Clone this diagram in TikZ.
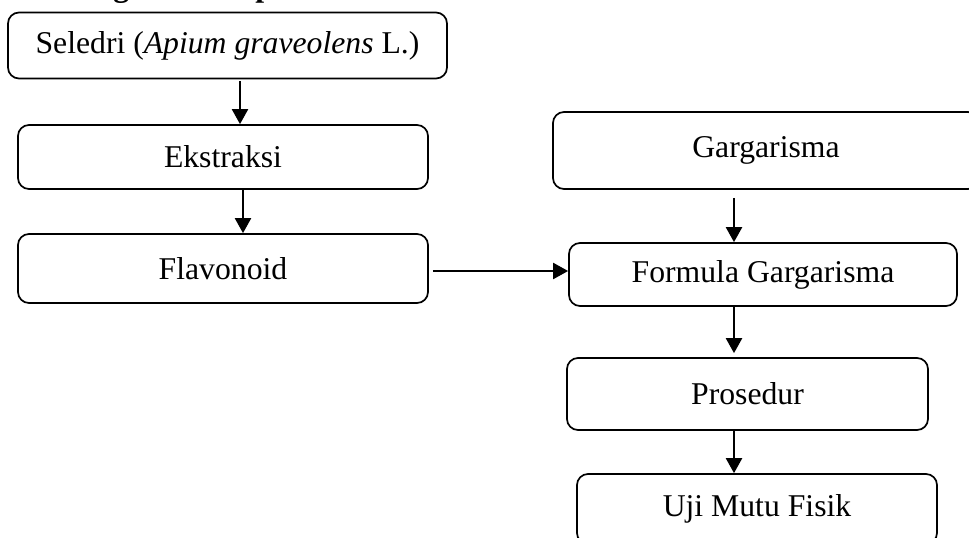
\documentclass[tikz,border=0pt]{standalone}
\usepackage{fontspec}
\setmainfont{Liberation Serif}
\usetikzlibrary{arrows.meta}
\tikzset{
  box/.style={draw=black, line width=1.7pt, rounded corners=11pt, inner sep=0pt,
              align=center, font=\fontsize{31.7}{38}\selectfont},
  arr/.style={line width=2.2pt, -{Triangle[length=15pt,width=16pt]}},
}
\begin{document}
\begin{tikzpicture}[x=1pt,y=-1pt]
\useasboundingbox (0,0) rectangle (969,538);
\node[anchor=base west, inner sep=0pt, font=\fontsize{31.7}{38}\selectfont\bfseries] (title) at (27,-3) {Kerangka Konsep};
\node[box, minimum width=439pt, minimum height=66pt] (sel) at (227.5,45.5) {Seledri (\textit{Apium graveolens} L.)};
\node[box, minimum width=410pt, minimum height=64pt] (eks) at (223,157) {Ekstraksi};
\node[box, minimum width=410pt, minimum height=69pt] (fla) at (223,268.5) {Flavonoid};
\node[box, minimum width=426pt, minimum height=77pt] (gar) at (766,150.5) {Gargarisma};
\node[box, minimum width=388pt, minimum height=63pt] (frm) at (763,274.5) {Formula Gargarisma};
\node[box, minimum width=361pt, minimum height=72pt] (pro) at (747.5,394) {Prosedur};
\node[box, minimum width=360pt, minimum height=70pt] (uji) at (757,509) {Uji Mutu Fisik};
\coordinate (a1) at (240,0);
\coordinate (a2) at (243,0);
\coordinate (a3) at (734,0);
\draw[arr, shorten <=2pt] (a1 |- sel.south) -- (a1 |- eks.north);
\draw[arr] (a2 |- eks.south) -- (a2 |- fla.north);
\draw[arr, shorten <=4pt] (fla.east |- 0,271) -- (frm.west |- 0,271);
\draw[arr, shorten <=8pt] (a3 |- gar.south) -- (a3 |- frm.north);
\draw[arr, shorten >=4pt] (a3 |- frm.south) -- (a3 |- pro.north);
\draw[arr] (a3 |- pro.south) -- (a3 |- uji.north);
\end{tikzpicture}
\end{document}
